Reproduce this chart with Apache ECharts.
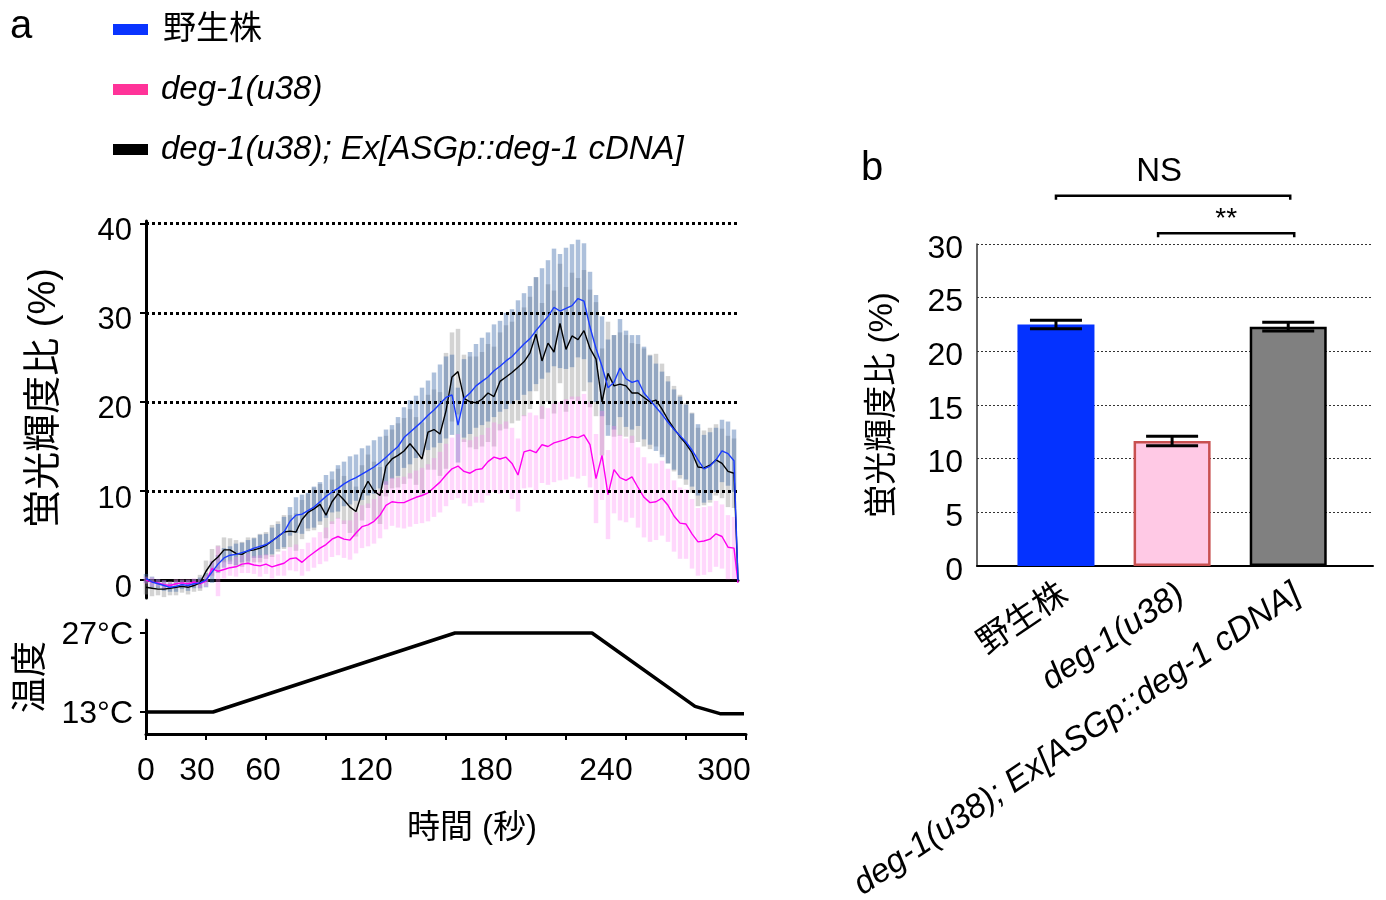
<!DOCTYPE html>
<html><head><meta charset="utf-8">
<script src="https://cdn.jsdelivr.net/npm/echarts@6/dist/echarts.min.js"></script>
<style>html,body{margin:0;padding:0;background:#fff}#c{width:1386px;height:900px}</style>
</head><body><div id="c"></div>
<script>
const FONT = '"Liberation Sans", "Noto Sans CJK JP", sans-serif';

// ---------- data ----------
const seriesNames = ['野生株', 'deg-1(u38)', 'deg-1(u38); Ex[ASGp::deg-1 cDNA]'];

const times = [
  0,3,6,9,12,15,18,21,24,27,
  30,33,36,39,42,45,48,51,54,57,
  60,63,66,69,72,75,78,81,84,87,
  90,93,96,99,102,105,108,111,114,117,
  120,123,126,129,132,135,138,141,144,147,
  150,153,156,159,162,165,168,171,174,177,
  180,183,186,189,192,195,198,201,204,207,
  210,213,216,219,222,225,228,231,234,237,
  240,243,246,249,252,255,258,261,264,267,
  270,273,276,279,282,285,288,291,294,296
];

const wtMean = [
  0.2,-0.2,-0.4,-0.6,-0.8,-0.7,-0.5,-0.6,-0.4,-0.3,
  0.0,0.9,1.8,2.5,2.8,2.9,3.1,3.3,3.6,3.8,
  4.0,4.4,4.9,5.4,6.6,7.3,7.4,7.8,8.2,8.8,
  9.4,9.9,10.3,10.8,11.2,11.5,11.9,12.3,12.7,13.2,
  13.8,14.4,15.0,16.0,16.6,17.2,17.8,18.5,19.1,19.8,
  20.5,20.8,17.4,20.4,21.0,21.8,22.3,22.8,23.5,24.0,
  24.6,25.1,25.8,26.5,27.1,28.0,28.8,29.6,30.6,30.2,
  30.5,30.8,31.6,31.3,28.4,26.0,24.0,21.6,22.2,23.8,
  22.6,22.2,22.4,21.0,20.2,19.4,18.6,17.7,16.9,16.2,
  15.5,14.6,13.5,12.5,12.8,13.5,14.5,14.2,13.4,0
];
const wtErr = [
  0.5,0.6,0.5,0.6,0.5,0.6,0.5,0.6,0.5,0.6,
  0.8,1.2,1.0,1.1,1.0,1.2,1.1,1.2,1.1,1.3,
  1.2,1.5,1.4,1.7,1.6,2.0,2.2,2.0,2.3,2.2,
  2.4,2.3,2.6,2.5,2.7,2.6,2.9,2.8,3.0,2.9,
  3.1,3.0,3.3,3.4,3.6,3.5,3.8,3.9,4.2,4.4,
  4.6,4.5,4.2,4.4,4.6,4.7,4.9,5.0,5.2,5.1,
  5.4,5.3,5.6,5.7,5.9,6.0,6.2,6.3,6.6,6.4,
  6.8,6.9,6.6,6.5,6.2,6.0,5.6,5.4,5.3,5.5,
  5.4,5.3,5.1,5.2,5.0,4.9,4.8,4.6,4.5,4.4,
  4.2,4.1,4.0,3.8,3.8,3.6,3.5,3.6,3.5,0
];

const mutMean = [
  0.0,-0.2,-0.3,-0.5,-0.6,-0.4,-0.3,-0.4,-0.2,-0.4,
  -0.1,1.3,1.0,1.2,1.4,1.5,1.8,1.9,1.7,1.6,
  1.8,1.5,1.7,1.9,2.4,2.5,2.0,2.6,3.1,3.6,
  4.0,4.6,4.9,4.6,4.5,5.3,6.0,6.2,6.6,7.3,
  8.4,8.8,8.7,8.7,9.0,9.3,9.5,9.8,10.4,11.0,
  11.8,12.5,12.8,12.2,12.0,12.4,12.5,13.3,13.8,13.6,
  13.8,13.1,11.8,14.4,14.6,14.3,15.2,15.0,15.4,15.6,
  15.8,16.1,16.0,16.3,15.2,11.4,14.0,9.6,12.4,11.5,
  11.2,11.6,10.4,9.3,8.7,8.8,9.2,8.4,7.2,6.4,
  6.3,5.2,4.3,4.4,4.6,5.2,4.9,3.7,3.6,-0.3
];
const mutErr = [
  0.4,0.5,0.4,0.5,0.4,0.5,0.4,0.5,0.4,0.5,
  0.6,0.9,2.8,1.0,0.9,1.1,1.0,1.1,1.0,1.2,
  1.1,1.3,1.2,1.4,1.3,1.5,1.5,1.6,1.7,1.8,
  1.9,2.0,2.1,2.1,2.2,2.3,2.4,2.4,2.5,2.6,
  2.7,2.7,2.8,2.9,3.0,3.0,3.1,3.2,3.3,3.4,
  3.5,3.5,3.6,3.6,3.7,3.7,3.8,3.8,3.9,3.9,
  4.0,4.0,4.1,4.1,4.2,4.2,4.3,4.3,4.4,4.4,
  4.5,4.5,4.6,4.6,4.8,5.0,5.0,5.0,4.9,4.8,
  4.7,4.6,4.5,4.5,4.4,4.3,4.2,4.1,4.0,4.0,
  3.9,3.9,3.8,3.8,3.7,3.7,3.6,3.6,3.5,0
];

const resMean = [
  -0.8,-0.9,-1.0,-1.0,-0.9,-0.8,-0.7,-0.8,-0.6,-0.3,
  1.0,2.0,2.6,3.4,3.4,3.0,2.9,3.3,3.4,3.6,
  3.9,4.4,4.9,5.4,5.5,5.4,6.8,7.6,8.0,8.5,
  7.3,8.8,9.7,9.0,8.2,7.7,9.8,11.1,10.0,9.5,
  12.8,13.6,14.0,14.5,15.3,14.5,13.6,16.6,16.9,16.4,
  19.0,22.8,23.4,20.4,20.0,19.9,20.3,21.0,20.6,22.3,
  22.8,23.3,23.9,24.5,25.5,27.6,24.6,26.6,25.6,28.8,
  25.9,27.4,27.0,28.0,26.0,24.8,20.0,23.2,21.8,22.0,
  21.8,21.0,21.0,20.5,20.0,20.2,19.2,18.0,17.0,16.1,
  15.3,14.3,12.7,12.6,12.9,13.5,13.1,12.2,12.0,0
];
const resErr = [
  0.8,0.9,0.7,0.9,0.8,0.9,0.7,0.8,0.7,0.9,
  1.2,1.5,1.3,1.4,1.3,1.5,1.4,1.5,1.4,1.6,
  1.5,1.8,1.7,1.9,1.8,2.1,2.2,2.1,2.4,2.3,
  2.6,2.5,2.8,2.7,2.9,2.8,3.1,3.0,3.3,3.2,
  3.4,3.3,3.6,3.7,3.9,3.8,4.1,4.2,4.5,4.7,
  6.5,5.0,4.8,4.9,5.1,5.2,5.3,5.5,5.6,5.5,
  5.8,5.7,6.0,6.1,6.3,6.4,6.5,6.6,6.9,6.7,
  7.0,7.1,6.9,6.8,6.6,6.4,6.0,5.8,5.7,5.8,
  5.7,5.6,5.5,5.5,5.3,5.2,5.1,4.9,4.8,4.7,
  4.6,4.5,4.4,4.2,4.2,4.0,3.9,4.0,3.9,0
];

const tempTimes = [0, 33.5, 154.5, 223, 274.5, 287, 299];
const tempValues = [13, 13, 27, 27, 14, 12.7, 12.7];

const ratioTickLabels = [0, 10, 20, 30, 40];
const ratioGridValues = [10, 20, 30, 40];
const timeTicks = [0, 30, 60, 90, 120, 150, 180, 210, 240, 270, 300];
const timeTickLabels = [0, 30, 60, 120, 180, 240, 300];
const tempTickLabels = [13, 27];

const barCategories = seriesNames;
const barPositions = [1, 2, 3];
const barMeans = [22.5, 11.65, 22.3];
const barSE = [0.4, 0.44, 0.4];

const sigFrom = [1, 2];
const sigTo = [3, 3];
const sigLevels = [34.5, 31.0];
const sigLabels = ['NS', '**'];

// ---------- helpers ----------
const pairs = (xs, ys) => xs.map((x, i) => [x, ys[i]]);
const triples = (xs, ys, es) => xs.map((x, i) => [x, ys[i], es[i]]);

function bandRender(color, width) {
  return function (params, api) {
    const t = api.value(0), m = api.value(1), e = api.value(2);
    const p1 = api.coord([t, m - e]), p2 = api.coord([t, m + e]);
    return { type: 'line', shape: { x1: p1[0], y1: p1[1], x2: p2[0], y2: p2[1] },
      style: { stroke: color, lineWidth: width } };
  };
}

const timeLabelShift = { 0: 0, 30: 9, 60: 3, 120: 20, 180: 20, 240: 20, 300: 22 };
const timeRich = {};
Object.keys(timeLabelShift).forEach(k => {
  timeRich['s' + k] = { fontSize: 32, fontFamily: FONT, color: '#000', padding: [0, timeLabelShift[k] * 2, 0, 0] };
});
// vertical nudge of tick labels (text sits a little below its tick in the original)
const downRich = (size, px) => ({ d: { fontSize: size, fontFamily: FONT, color: '#000', padding: [px, 0, 0, 0] } });

const legendColors = ['#0a34ff', '#ff3399', '#000000'];
const lineColors = ['#1a3cff', '#ff00f0', '#000000'];

const chart = echarts.init(document.getElementById('c'), null, { renderer: 'canvas' });

const option = {
  animation: false,
  backgroundColor: '#fff',
  textStyle: { fontFamily: FONT, color: '#000' },
  title: [
    { text: 'a', left: 5, top: 2, textStyle: { fontSize: 40, fontWeight: 'normal', fontFamily: FONT, color: '#000' } },
    { text: 'b', left: 856, top: 144, textStyle: { fontSize: 40, fontWeight: 'normal', fontFamily: FONT, color: '#000' } }
  ],
  legend: {
    data: seriesNames.map((n, i) => ({ name: n, itemStyle: { color: legendColors[i] } })),
    orient: 'vertical', left: 108, top: 8, icon: 'rect',
    itemWidth: 35, itemHeight: 11, itemGap: 27, selectedMode: false,
    formatter: n => (n === '野生株' ? '{n|' + n + '}' : '{i|' + n + '}'),
    textStyle: {
      fontSize: 33, color: '#000', fontFamily: FONT,
      rich: {
        n: { fontSize: 33, fontFamily: FONT, color: '#000', padding: [0, 0, 0, 10], lineHeight: 37 },
        i: { fontSize: 33, fontFamily: FONT, color: '#000', fontStyle: 'italic', padding: [0, 0, 0, 8], lineHeight: 37 }
      }
    }
  },
  grid: [
    { left: 146, top: 221, width: 592, height: 377, outerBoundsMode: 'none', containLabel: false },
    { left: 146, top: 620, width: 600, height: 114, outerBoundsMode: 'none', containLabel: false },
    { left: 977, top: 244, width: 396, height: 322, outerBoundsMode: 'none', containLabel: false }
  ],
  xAxis: [
    { gridIndex: 0, type: 'value', min: 0, max: 296,
      axisLine: { onZero: true, lineStyle: { color: '#000', width: 3 } },
      axisTick: { show: false }, axisLabel: { show: false }, splitLine: { show: false } },
    { gridIndex: 1, type: 'value', min: 0, max: 300,
      axisLine: { onZero: false, lineStyle: { color: '#000', width: 3 } },
      axisTick: { show: true, customValues: timeTicks, length: 6, lineStyle: { color: '#000', width: 2 } },
      axisLabel: { customValues: timeTickLabels, margin: 21, color: '#000', fontSize: 32, fontFamily: FONT,
        formatter: v => '{s' + v + '|' + v + '}', rich: timeRich },
      splitLine: { show: false },
      name: '時間 (秒)', nameLocation: 'middle', nameGap: 78,
      nameTextStyle: { fontSize: 33, fontFamily: FONT, color: '#000', padding: [0, 0, 0, 52] } },
    { gridIndex: 2, type: 'value', min: 0.32, max: 3.73,
      axisLine: { onZero: true, lineStyle: { color: '#000', width: 2 } },
      axisTick: { show: false },
      axisLabel: { customValues: barPositions, rotate: 34, margin: 12, color: '#000',
        formatter: v => { const n = barCategories[Math.round(v) - 1]; return n === '野生株' ? '{n|' + n + '}' : '{i|' + n + '}'; },
        rich: {
          n: { fontSize: 33.5, fontFamily: FONT, color: '#000', padding: [32, 0, 0, 0] },
          i: { fontSize: 33.5, fontFamily: FONT, color: '#000', fontStyle: 'italic', padding: [32, 0, 0, 0] }
        } },
      splitLine: { show: false } }
  ],
  yAxis: [
    { gridIndex: 0, type: 'value', min: -2, max: 40.3,
      axisLine: { onZero: false, lineStyle: { color: '#000', width: 3 } },
      axisTick: { show: true, customValues: ratioTickLabels, length: 6, lineStyle: { color: '#000', width: 2 } },
      axisLabel: { customValues: ratioTickLabels, margin: 14, fontSize: 31, color: '#000', fontFamily: FONT,
        formatter: v => '{d|' + v + '}', rich: downRich(31, 16) },
      splitLine: { show: false },
      name: '蛍光輝度比 (%)', nameLocation: 'middle', nameRotate: 90, nameGap: 82,
      nameTextStyle: { fontSize: 38, fontFamily: FONT, color: '#000', padding: [0, 0, 0, 23] } },
    { gridIndex: 1, type: 'value', min: 9.1, max: 29.3,
      axisLine: { onZero: false, lineStyle: { color: '#000', width: 3 } },
      axisTick: { show: true, customValues: tempTickLabels, length: 6, lineStyle: { color: '#000', width: 2 } },
      axisLabel: { customValues: tempTickLabels, margin: 13, fontSize: 32, color: '#000', fontFamily: FONT,
        formatter: v => '{d|' + v + '°C}', rich: downRich(32, 4) },
      splitLine: { show: false },
      name: '温度', nameLocation: 'middle', nameRotate: 90, nameGap: 96,
      nameTextStyle: { fontSize: 36, fontFamily: FONT, color: '#000' } },
    { gridIndex: 2, type: 'value', min: 0, max: 30, interval: 5,
      axisLine: { show: true, lineStyle: { color: '#333', width: 1.5 } },
      axisTick: { show: false },
      axisLabel: { margin: 14, fontSize: 32, color: '#000', fontFamily: FONT,
        formatter: v => '{d|' + v + '}', rich: downRich(32, 10) },
      splitLine: { show: true, lineStyle: { color: '#333', width: 1, type: [2, 2] } },
      name: '蛍光輝度比 (%)', nameLocation: 'middle', nameRotate: 90, nameGap: 78,
      nameTextStyle: { fontSize: 33, fontFamily: FONT, color: '#000' } }
  ],
  series: [
    { type: 'custom', name: 'res-sem', xAxisIndex: 0, yAxisIndex: 0, z: 1, silent: true,
      encode: { x: 0, y: 1 }, data: triples(times, resMean, resErr),
      renderItem: bandRender('rgba(140,140,140,0.38)', 4.5) },
    { type: 'custom', name: 'wt-sem', xAxisIndex: 0, yAxisIndex: 0, z: 2, silent: true,
      encode: { x: 0, y: 1 }, data: triples(times, wtMean, wtErr),
      renderItem: bandRender('rgba(60,105,170,0.42)', 4.5) },
    { type: 'custom', name: 'mut-sem', xAxisIndex: 0, yAxisIndex: 0, z: 2, silent: true,
      encode: { x: 0, y: 1 }, data: triples(times, mutMean, mutErr),
      renderItem: bandRender('rgba(255,130,245,0.32)', 4.5) },
    { type: 'line', name: seriesNames[1], xAxisIndex: 0, yAxisIndex: 0, z: 3,
      data: pairs(times, mutMean), showSymbol: false, color: lineColors[1],
      lineStyle: { color: lineColors[1], width: 1.4 } },
    { type: 'line', name: seriesNames[2], xAxisIndex: 0, yAxisIndex: 0, z: 4,
      data: pairs(times, resMean), showSymbol: false, color: lineColors[2],
      lineStyle: { color: lineColors[2], width: 1.4 } },
    { type: 'line', name: seriesNames[0], xAxisIndex: 0, yAxisIndex: 0, z: 5,
      data: pairs(times, wtMean), showSymbol: false, color: lineColors[0],
      lineStyle: { color: lineColors[0], width: 1.4 },
      markLine: { silent: true, symbol: 'none', label: { show: false },
        lineStyle: { color: '#000', type: [3, 3], width: 3 },
        data: ratioGridValues.map(v => ({ yAxis: v })) } },
    { type: 'line', name: 'temperature', xAxisIndex: 1, yAxisIndex: 1,
      data: pairs(tempTimes, tempValues), showSymbol: false,
      lineStyle: { color: '#000', width: 3.5 }, color: '#000' },
    { type: 'bar', name: 'bars', xAxisIndex: 2, yAxisIndex: 2, barWidth: 77, z: 2,
      data: barPositions.map((p, i) => ({
        value: [p, barMeans[i]],
        itemStyle: [
          { color: '#0432ff', borderColor: '#0432ff', borderWidth: 0 },
          { color: '#ffc9e5', borderColor: '#c85050', borderWidth: 2.5 },
          { color: '#808080', borderColor: '#000', borderWidth: 2.5 }
        ][i]
      })) },
    { type: 'custom', name: 'bar-sem', xAxisIndex: 2, yAxisIndex: 2, z: 5, silent: true,
      encode: { x: 0, y: 1 }, data: triples(barPositions, barMeans, barSE),
      renderItem: (params, api) => {
        const x = api.value(0), m = api.value(1), e = api.value(2);
        const top = api.coord([x, m + e]), bot = api.coord([x, m - e]);
        const hw = 26;
        const st = { stroke: '#000', lineWidth: 3 };
        return { type: 'group', children: [
          { type: 'line', shape: { x1: top[0], y1: top[1], x2: bot[0], y2: bot[1] }, style: st },
          { type: 'line', shape: { x1: top[0] - hw, y1: top[1], x2: top[0] + hw, y2: top[1] }, style: st },
          { type: 'line', shape: { x1: bot[0] - hw, y1: bot[1], x2: bot[0] + hw, y2: bot[1] }, style: st }
        ] };
      } },
    { type: 'custom', name: 'significance', xAxisIndex: 2, yAxisIndex: 2, z: 6, silent: true, clip: false,
      data: sigFrom.map((f, i) => [f, sigTo[i], sigLevels[i]]),
      renderItem: (params, api) => {
        const a = api.coord([api.value(0), api.value(2)]);
        const b = api.coord([api.value(1), api.value(2)]);
        const lbl = sigLabels[params.dataIndex];
        const big = lbl === 'NS';
        const ax = big ? a[0] : a[0] - 14;
        const bx = b[0] + (big ? 2 : 6);
        return { type: 'group', children: [
          { type: 'polyline', shape: { points: [[ax, a[1] + 4], [ax, a[1]], [bx, b[1]], [bx, b[1] + 4]] },
            style: { stroke: '#000', lineWidth: 2.5, fill: null } },
          { type: 'text', x: (ax + bx) / 2 + (big ? -14 : 0), y: a[1] - (big ? 7 : 0),
            style: { text: lbl, fontSize: big ? 33 : 28, fontFamily: FONT, fill: '#000',
              align: 'center', verticalAlign: 'bottom' } }
        ] };
      } }
  ]
};
chart.setOption(option);
</script>
</body></html>
